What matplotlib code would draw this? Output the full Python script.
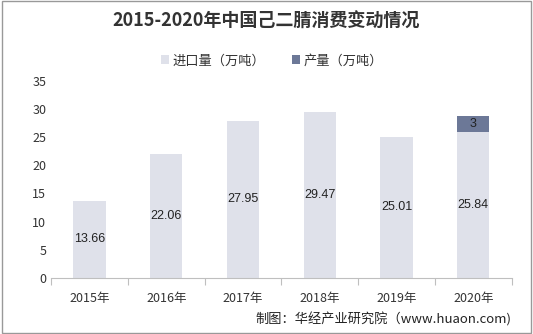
import matplotlib
matplotlib.use("Agg")
import matplotlib.pyplot as plt
from matplotlib.patches import Rectangle

plt.rcParams['font.family'] = ['Noto Sans CJK SC', 'DejaVu Sans']

years = ['2015年', '2016年', '2017年', '2018年', '2019年', '2020年']
imports = [13.66, 22.06, 27.95, 29.47, 25.01, 25.84]
production = [0, 0, 0, 0, 0, 3]
import_labels = ['13.66', '22.06', '27.95', '29.47', '25.01', '25.84']

fig = plt.figure(figsize=(5.33, 3.34), dpi=100)
ax = fig.add_axes([0.096, 0.168, 0.864, 0.59])

c_imp = '#dfe1ea'
c_prod = '#6c7897'
x = range(len(years))
ax.bar(x, imports, width=0.42, color=c_imp, label='进口量（万吨）')
prod_x = [i for i, v in enumerate(production) if v > 0]
prod_v = [v for v in production if v > 0]
prod_b = [imports[i] for i in prod_x]
ax.bar(prod_x, prod_v, width=0.42, bottom=prod_b, color=c_prod, label='产量（万吨）')

for i, (v, lab) in enumerate(zip(imports, import_labels)):
    ax.text(i, v / 2, lab, ha='center', va='center', fontsize=9, color='#222222',
            family=['Liberation Sans', 'DejaVu Sans'])
for i, v, b in zip(prod_x, prod_v, prod_b):
    ax.text(i, b + v / 2, f'{v:g}', ha='center', va='center', fontsize=9, color='#222222',
            family=['Liberation Sans', 'DejaVu Sans'])

ax.set_xlim(-0.5, len(years) - 0.5)
ax.set_ylim(0, 35)
ax.set_yticks(range(0, 36, 5))
ax.set_xticks([i - 0.5 for i in range(len(years) + 1)], minor=False)
ax.set_xticklabels([''] * (len(years) + 1))
ax.set_xticks(list(x), minor=True)
ax.set_xticklabels(years, minor=True, fontsize=9, color='#333333')
ax.tick_params(axis='x', which='major', length=5, color='#bfbfbf')
ax.tick_params(axis='x', which='minor', length=0, pad=10)
ax.tick_params(axis='y', length=0, labelsize=9, labelcolor='#333333')
for s in ['top', 'right', 'left']:
    ax.spines[s].set_visible(False)
ax.spines['bottom'].set_color('#bfbfbf')

fig.text(0.5, 0.935, '2015-2020年中国己二腈消费变动情况', ha='center', va='center',
         fontsize=13, fontweight='bold', color='#333333')
leg = fig.legend(loc='center', bbox_to_anchor=(0.51, 0.818), ncol=2, frameon=False,
                 fontsize=9.5, handlelength=0.6, handleheight=0.6, columnspacing=2.0,
                 handletextpad=0.3)
for t in leg.get_texts():
    t.set_color('#333333')

fig.text(0.96, 0.045, '制图：华经产业研究院（www.huaon.com)', ha='right', va='center',
         fontsize=9.5, color='#222222')

fig.patches.append(Rectangle((0.003, 0.003), 0.994, 0.994, transform=fig.transFigure,
                             fill=False, edgecolor='#999999', linewidth=1))

fig.savefig('out.png', dpi=100)
